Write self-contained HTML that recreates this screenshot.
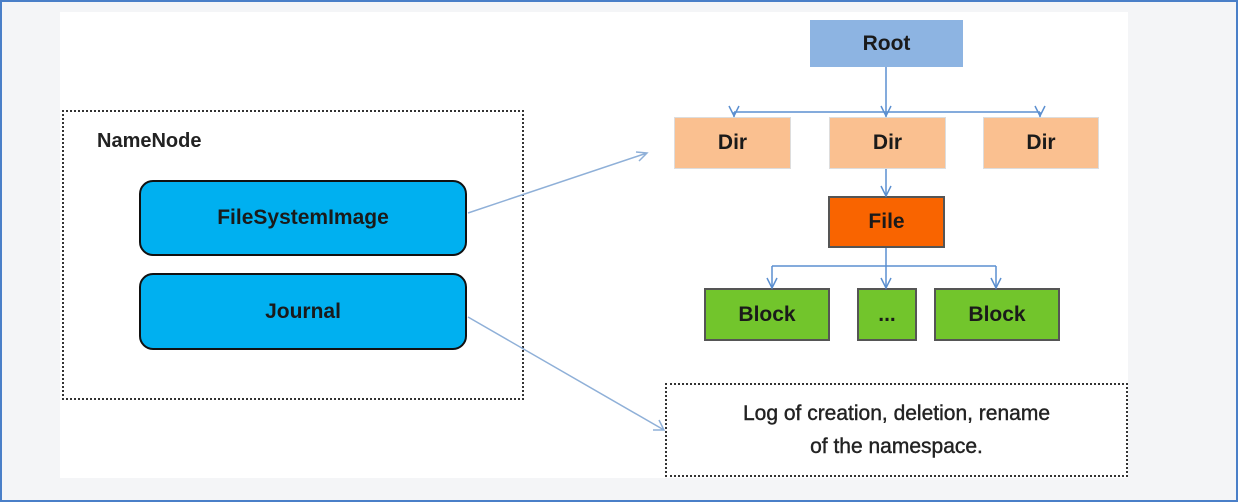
<!DOCTYPE html>
<html><head><style>
html,body{margin:0;padding:0}
body{width:1238px;height:502px;position:relative;background:#f4f5f7;font-family:"Liberation Sans",sans-serif;overflow:hidden}
.frame{position:absolute;left:0;top:0;width:1234px;height:498px;border:2px solid #4a7fc8}
.inner{position:absolute;left:60px;top:12px;width:1068px;height:466px;background:#fff}
.b{position:absolute;display:flex;align-items:center;justify-content:center;font-weight:bold;font-size:21px;color:#1a1a1a;box-sizing:border-box}
</style></head><body>
<div class="frame"></div>
<div class="inner"></div>
<div style="position:absolute;left:62px;top:110px;width:462px;height:290px;border:2px dotted #333;box-sizing:border-box"></div>
<div style="position:absolute;left:97px;top:130px;font-size:20px;font-weight:bold;color:#222">NameNode</div>
<div class="b" style="left:139px;top:180px;width:328px;height:76px;background:#00b0f0;border:2px solid #111;border-radius:14px">FileSystemImage</div>
<div class="b" style="left:139px;top:273px;width:328px;height:77px;background:#00b0f0;border:2px solid #111;border-radius:14px">Journal</div>
<div class="b" style="left:810px;top:20px;width:153px;height:47px;background:#8db4e2">Root</div>
<div class="b" style="left:674px;top:117px;width:117px;height:52px;background:#fac090;border:1px solid #ddd">Dir</div>
<div class="b" style="left:829px;top:117px;width:117px;height:52px;background:#fac090;border:1px solid #ddd">Dir</div>
<div class="b" style="left:983px;top:117px;width:116px;height:52px;background:#fac090;border:1px solid #ddd">Dir</div>
<div class="b" style="left:828px;top:196px;width:117px;height:52px;background:#f96400;border:2px solid #555">File</div>
<div class="b" style="left:704px;top:288px;width:126px;height:53px;background:#72c52c;border:2px solid #555">Block</div>
<div class="b" style="left:857px;top:288px;width:60px;height:53px;background:#72c52c;border:2px solid #555">...</div>
<div class="b" style="left:934px;top:288px;width:126px;height:53px;background:#72c52c;border:2px solid #555">Block</div>
<div class="b" style="left:665px;top:383px;width:463px;height:94px;border:2px dotted #333;background:#fff;flex-direction:column;font-weight:normal;font-size:21px;line-height:33px;color:#222;-webkit-text-stroke:0.4px #222">
<div>Log of creation, deletion, rename</div><div>of the namespace.</div></div>
<svg width="1238" height="502" style="position:absolute;left:0;top:0" fill="none" stroke="#5b8fd0" stroke-width="1.5">
<path d="M886 67V117M734 112H1040M734 112V117M1040 112V117M886 169V196M886 248V288M772 266H996M772 266V288M996 266V288"/>
<path d="M729 106l5 10 5-10M881 106l5 10 5-10M1035 106l5 10 5-10M881 186l5 10 5-10M767 278l5 10 5-10M881 278l5 10 5-10M991 278l5 10 5-10"/>
<path d="M468 213L647 153M636 152l11 1-8 8" stroke="#8fb0d8"/>
<path d="M468 317L664 430M653 430l11 0-5-10" stroke="#8fb0d8"/>
</svg>
</body></html>
